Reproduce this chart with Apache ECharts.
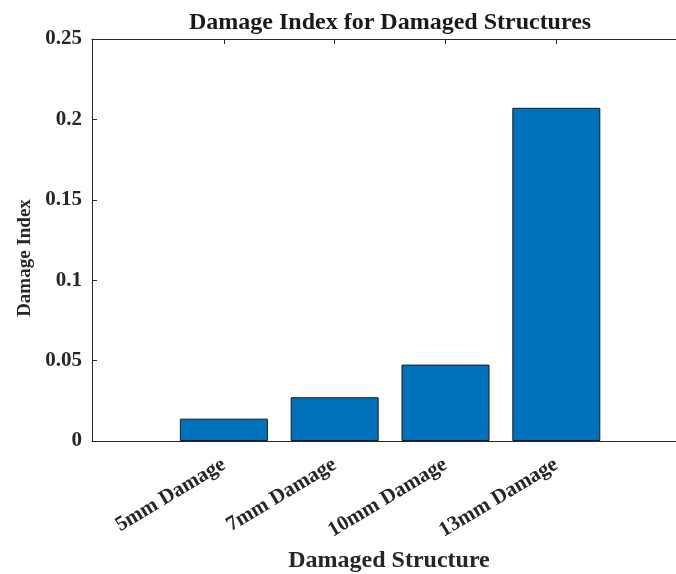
<!DOCTYPE html>
<html>
<head>
<meta charset="utf-8">
<script src="https://cdn.jsdelivr.net/npm/echarts@6/dist/echarts.min.js"></script>
<style>
html,body{margin:0;padding:0;background:#fff;}
#c{width:676px;height:574px;}
</style>
</head>
<body>
<div id="c"></div>
<script>
const categories = ['5mm Damage', '7mm Damage', '10mm Damage', '13mm Damage'];
const positions = [1, 2, 3, 4];
const damageIndex = [0.0139, 0.0272, 0.0475, 0.2072];
const yTicks = [0, 0.05, 0.1, 0.15, 0.2, 0.25];

const FONT = '"Liberation Serif", "Times New Roman", serif';
const chart = echarts.init(document.getElementById('c'));
const barData = positions.map((p, i) => [p, damageIndex[i]]);

chart.setOption({
  animation: false,
  backgroundColor: '#ffffff',
  title: {
    text: 'Damage Index for Damaged Structures',
    left: 184, top: 6,
    textStyle: { fontFamily: FONT, fontWeight: 'bold', fontSize: 24, color: '#1a1a1a' }
  },
  grid: { left: 92, right: 0, top: 39, bottom: 133, containLabel: false, outerBoundsMode: 'none' },
  xAxis: [{
    type: 'value', position: 'bottom', min: -0.19, max: 5.08,
    name: 'Damaged Structure', nameLocation: 'middle', nameGap: 108,
    nameTextStyle: { fontFamily: FONT, fontWeight: 'bold', fontSize: 24, color: '#262626', padding: [0, 0, 0, 10] },
    splitLine: { show: false },
    axisLine: { show: true, onZero: false, lineStyle: { color: '#262626', width: 1 } },
    axisTick: { show: true, inside: true, length: 5, customValues: positions, lineStyle: { color: '#262626' } },
    axisLabel: {
      show: true, rotate: 31, margin: 22, customValues: positions,
      formatter: v => categories[positions.indexOf(v)] || '',
      fontFamily: FONT, fontWeight: 'bold', fontSize: 21, color: '#262626'
    }
  }, {
    type: 'value', position: 'top', min: -0.19, max: 5.08,
    splitLine: { show: false },
    axisLine: { show: true, onZero: false, lineStyle: { color: '#262626', width: 1 } },
    axisTick: { show: true, inside: true, length: 5, customValues: positions, lineStyle: { color: '#262626' } },
    axisLabel: { show: false }
  }],
  yAxis: {
    type: 'value', min: 0, max: 0.25, interval: 0.05,
    name: 'Damage Index', nameLocation: 'middle', nameGap: 57,
    nameTextStyle: { fontFamily: FONT, fontWeight: 'bold', fontSize: 19, color: '#262626', padding: [0, 36, 0, 0] },
    splitLine: { show: false },
    axisLine: { show: true, onZero: false, lineStyle: { color: '#262626', width: 1 } },
    axisTick: { show: true, inside: true, length: 5, lineStyle: { color: '#262626' } },
    axisLabel: {
      margin: 10,
      formatter: v => String(Math.round(v * 100) / 100),
      fontFamily: FONT, fontWeight: 'bold', fontSize: 21, color: '#262626'
    }
  },
  series: [{
    type: 'bar',
    xAxisIndex: 0,
    data: barData,
    barWidth: 88,
    itemStyle: { color: '#0072BD', borderColor: '#1a1a1a', borderWidth: 1 }
  }]
});
</script>
</body>
</html>
